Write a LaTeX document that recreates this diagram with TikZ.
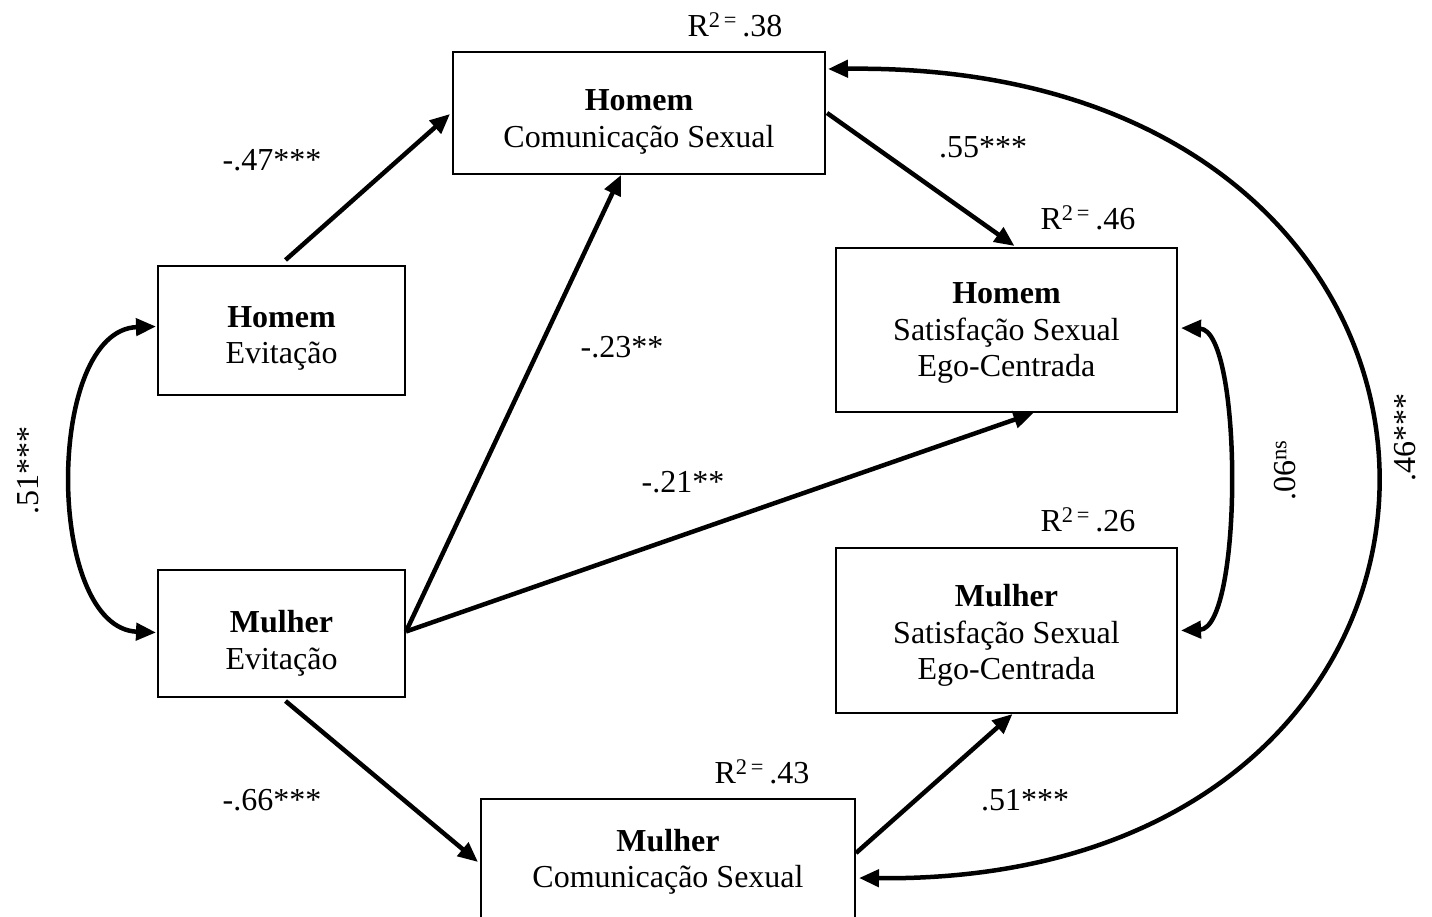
\documentclass[tikz,border=0pt]{standalone}
\usepackage{fontspec}
\setmainfont{Liberation Serif}
\usetikzlibrary{arrows.meta,calc}
\begin{document}
\begin{tikzpicture}[x=1pt,y=-1pt,
  every node/.style={font=\fontsize{32}{36.5}\selectfont},
  box/.style={draw,line width=2pt,inner sep=0pt},
  txt/.style={align=center,inner sep=0pt},
  path/.style={line width=4.5pt,-{Triangle[length=20pt,width=17pt]}},
  dpath/.style={line width=4.5pt,{Triangle[length=20pt,width=17pt]}-{Triangle[length=20pt,width=17pt]}},
  lab/.style={inner sep=0pt}]
\clip (0,0) rectangle (1432,917);
\fill[white] (0,0) rectangle (1432,917);
% boxes
\node[box,minimum width=372pt,minimum height=122pt] (hcs) at (639,113) {};
\node[box,minimum width=247pt,minimum height=129pt] (he) at (281.5,330.5) {};
\node[box,minimum width=341pt,minimum height=164pt] (hs) at (1006.5,330) {};
\node[box,minimum width=247pt,minimum height=127pt] (me) at (281.5,633.5) {};
\node[box,minimum width=341pt,minimum height=165pt] (ms) at (1006.5,630.5) {};
\node[box,minimum width=374pt,minimum height=122pt] (mcs) at (668,860) {};
% box texts
\node[txt] (thcs) at ($(hcs.center)+(0,9)$) {\textbf{Homem}\\Comunicação Sexual};
\node[txt] (the) at ($(he.center)+(0,8)$) {\textbf{Homem}\\Evitação};
\node[txt] (ths) at ($(hs.center)+(0,3)$) {\textbf{Homem}\\Satisfação Sexual\\Ego-Centrada};
\node[txt] (tme) at ($(me.center)+(0,10)$) {\textbf{Mulher}\\Evitação};
\node[txt] (tms) at ($(ms.center)+(0,5)$) {\textbf{Mulher}\\Satisfação Sexual\\Ego-Centrada};
\node[txt] (tmcs) at ($(mcs.center)+(0,2)$) {\textbf{Mulher}\\Comunicação Sexual};
% connectors
\draw[path] ($(he.north)+(4,-5)$) -- ($(hcs.west)+(-2,1)$);
\draw[path] ($(me.east)+(0,-2)$) -- ($(hcs.south)+(-18,0)$);
\draw[path] ($(me.east)+(0,-2)$) -- ($(hs.south)+(27,0)$);
\draw[path] ($(hcs.east)+(1,0)$) -- ($(hs.north)+(8,-1)$);
\draw[path] ($(me.south)+(4,3)$) -- ($(mcs.west)+(-2,2)$);
\draw[path] ($(mcs.east)+(0,-7)$) -- ($(ms.south)+(6,0)$);
\draw[dpath] ($(he.west)+(-1,-4)$) .. controls (45,330) and (45,628) .. ($(me.west)+(-1,-1)$);
\draw[dpath] ($(hs.east)+(3,-2)$) .. controls (1243,330) and (1243,628) .. ($(ms.east)+(3,0)$);
\draw[dpath] ($(hcs.east)+(2,-44)$) .. controls (1552,60) and (1552,885) .. ($(mcs.east)+(3,18)$);
% labels
\node[lab] (l1) at (272,160) {-.47***};
\node[lab] (l2) at (622,347) {-.23**};
\node[lab] (l3) at (683,482) {-.21**};
\node[lab] (l4) at (983,147) {.55***};
\node[lab] (l5) at (272,800) {-.66***};
\node[lab] (l6) at (1025,800) {.51***};
\node[lab] (r1) at (735,25) {R\textsuperscript{2\,=}\,.38};
\node[lab] (r2) at (1088,218) {R\textsuperscript{2\,=}\,.46};
\node[lab] (r3) at (1088,520) {R\textsuperscript{2\,=}\,.26};
\node[lab] (r4) at (762,772) {R\textsuperscript{2\,=}\,.43};
\node[lab,rotate=90] (c1) at (28,470) {.51***};
\node[lab,rotate=90] (c2) at (1285,470) {.06\textsuperscript{ns}};
\node[lab,rotate=90] (c3) at (1405,437) {.46***};
\end{tikzpicture}
\end{document}
